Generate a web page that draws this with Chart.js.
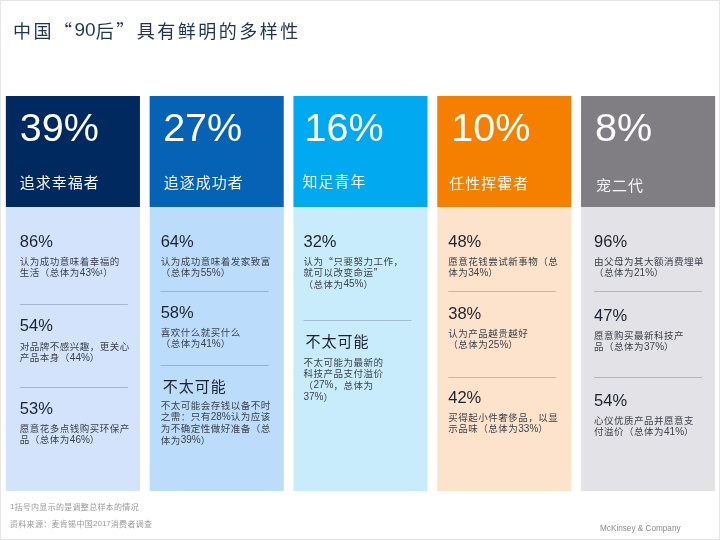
<!DOCTYPE html>
<html lang="zh">
<head>
<meta charset="utf-8">
<title>中国“90后”具有鲜明的多样性</title>
<script src="https://cdn.jsdelivr.net/npm/chart.js@4"></script>
<style>
  html, body { margin:0; padding:0; background:#fff; }
  canvas { display:block; }
</style>
</head>
<body>
<canvas id="chart" width="720" height="540"></canvas>
<script>
// ---- data ----
const segments = ["追求幸福者","追逐成功者","知足青年","任性挥霍者","宠二代"];
const shares = ["39%","27%","16%","10%","8%"];
const headerPart = [28.1,28.1,28.1,28.1,28.1];
const bodyPart = [71.9,71.9,71.9,71.9,71.9];

const stats = [
  ["86%","54%","53%"],
  ["64%","58%","不太可能"],
  ["32%","不太可能"],
  ["48%","38%","42%"],
  ["96%","47%","54%"]
];
const notes = [
  [["认为成功意味着幸福的","生活（总体为43%¹）"],["对品牌不感兴趣，更关心","产品本身（44%）"],["愿意花多点钱购买环保产","品（总体为46%）"]],
  [["认为成功意味着发家致富","（总体为55%）"],["喜欢什么就买什么","（总体为41%）"],["不太可能会存钱以备不时","之需：只有28%认为应该","为不确定性做好准备（总","体为39%）"]],
  [["认为“只要努力工作，","就可以改变命运”","（总体为45%）"],["不太可能为最新的","科技产品支付溢价","（27%，总体为","37%）"]],
  [["愿意花钱尝试新事物（总","体为34%）"],["认为产品越贵越好","（总体为25%）"],["买得起小件奢侈品，以显","示品味（总体为33%）"]],
  [["由父母为其大额消费埋单","（总体为21%）"],["愿意购买最新科技产","品（总体为37%）"],["心仪优质产品并愿意支","付溢价（总体为41%）"]]
];

const titleText = "中国“90后”具有鲜明的多样性";
const footnote = "1括号内显示的是调整总样本的情况";
const sourceText = "资料来源：麦肯锡中国2017消费者调查";
const brandText = "McKinsey & Company";

// ---- styles and layout ----
const headerColors = ["#002960","#0662b5","#00a9f0","#f58000","#807e82"];
const bodyColors = ["#d2e3fb","#bcdcfb","#c9ecfd","#fde3cb","#e3e2e7"];

const LATIN = '"Liberation Sans",sans-serif';
const CJK = '"Noto Sans CJK SC",sans-serif';
const shareInset = [14,13.5,11,14,14];
const segmentInset = [14,14,9,12,15];
const textInset = [14,11,10,11,13];
const segmentY = [182,182,181,183,185];
const statY = [[247,331,414],[247,318,386],[247,341],[247,319,403],[247,321,406]];
const noteY = [[261,346,428],[261,332,405],[261,362],[261,333,417],[261,335,420]];
const ruleY = [[304,387],[291,365],[320],[291,377],[291,377]];

// latin runs and CJK runs get their own font, like the original slide
function mixedText(ctx, str, x, y, latinSize, cjkSize, color, spacing){
  ctx.fillStyle = color;
  ctx.textBaseline = "middle";
  ctx.textAlign = "left";
  str.split(/([0-9A-Za-z%&¹]+)/).filter(Boolean).forEach(run=>{
    const latin = /^[0-9A-Za-z%&¹]/.test(run);
    ctx.font = (latin ? latinSize : cjkSize) + "px " + (latin ? LATIN : CJK);
    ctx.letterSpacing = (latin ? 0 : spacing) + "px";
    ctx.fillText(run, x, y);
    x += ctx.measureText(run).width;
  });
}

function latinText(ctx, str, x, y, size, color){
  ctx.font = size + "px " + LATIN;
  ctx.fillStyle = color;
  ctx.letterSpacing = "0px";
  ctx.textBaseline = "alphabetic";
  ctx.textAlign = "left";
  ctx.fillText(str, x, y);
}

// all the wording on top of the bars
const labelPlugin = {
  id: "labels",
  beforeDraw(chart){
    const ctx = chart.ctx;
    ctx.save();
    ctx.fillStyle = "#fff";
    ctx.fillRect(0,0,720,540);
    ctx.strokeStyle = "#e6e6e6";
    ctx.strokeRect(0.5,0.5,719,539);
    ctx.restore();
  },
  afterDraw(chart){
    const ctx = chart.ctx;
    const bars = chart.getDatasetMeta(0).data;
    ctx.save();
    mixedText(ctx, titleText, 13, 31, 19, 18, "#1f3456", 2.5);

    bars.forEach((bar,i)=>{
      const left = bar.x - bar.width/2;
      const x = left + textInset[i];
      latinText(ctx, shares[i], left + shareInset[i], 141, 39.5, "#fff");
      mixedText(ctx, segments[i], left + segmentInset[i], segmentY[i], 15, 15, "#f2f5fa", 1);

      stats[i].forEach((s,j)=>{
        if(s.includes("%")){
          latinText(ctx, s, x, statY[i][j], 16.5, "#1c2230");
        } else {
          mixedText(ctx, s, x+2, statY[i][j], 15, 15, "#1c2230", 1);
        }
        notes[i][j].forEach((line,k)=>{
          mixedText(ctx, line, x, noteY[i][j]+k*11.8, 10, 9.5, "#3a3f4a", 0.5);
        });
      });

      ctx.strokeStyle = "rgba(90,100,115,0.35)";
      ctx.lineWidth = 1;
      ruleY[i].forEach(y=>{
        ctx.beginPath();
        ctx.moveTo(x, y+0.5);
        ctx.lineTo(x+108, y+0.5);
        ctx.stroke();
      });
    });

    mixedText(ctx, footnote, 10, 507, 8, 8, "#9a9a9a", 0.3);
    mixedText(ctx, sourceText, 10, 524, 8, 8, "#9a9a9a", 0.3);
    latinText(ctx, brandText, 600, 531, 8.2, "#8c8c8c");
    ctx.restore();
  }
};

new Chart(document.getElementById("chart"), {
  type: "bar",
  data: {
    labels: segments,
    datasets: [
      { label:"说明", data: bodyPart, backgroundColor: bodyColors, stack:"s" },
      { label:"细分", data: headerPart, backgroundColor: headerColors, stack:"s" }
    ]
  },
  options: {
    responsive: false,
    animation: false,
    layout: { padding: { left:1, right:0, top:96, bottom:49 } },
    barPercentage: 1,
    categoryPercentage: 0.9325,
    plugins: { legend:{ display:false }, tooltip:{ enabled:false }, title:{ display:false } },
    scales: {
      x: { display:false, stacked:true },
      y: { display:false, stacked:true, min:0, max:100 }
    }
  },
  plugins: [labelPlugin]
});
</script>
</body>
</html>
